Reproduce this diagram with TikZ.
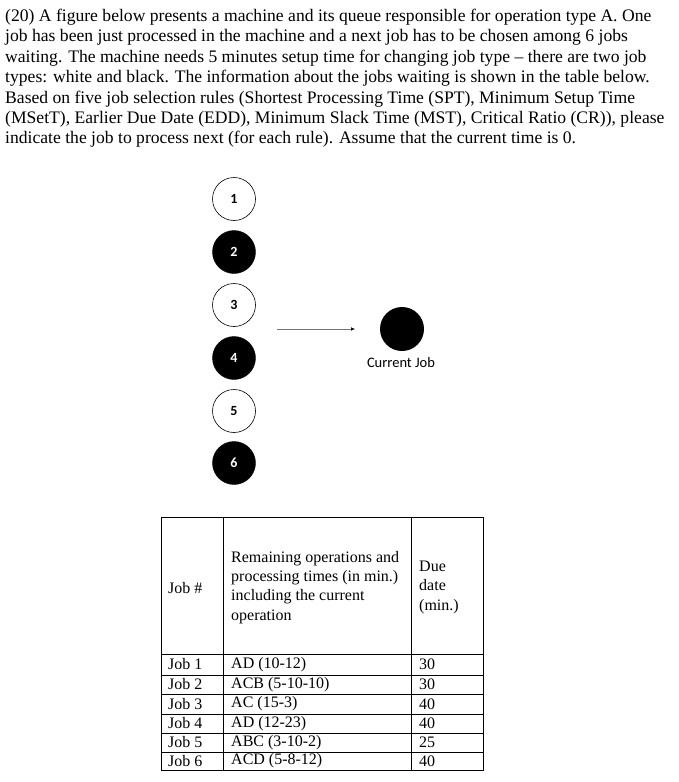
\documentclass[tikz,border=0pt]{standalone}
\usepackage{fontspec}
\setmainfont{Liberation Serif}
\newfontfamily\carl{Carlito}
\usetikzlibrary{arrows.meta}
\begin{document}
\begin{tikzpicture}[x=1pt,y=-1pt,
  txt/.style={inner sep=0pt,font=\fontsize{16}{19.3}\selectfont,anchor=west},
  whitejob/.style={circle,draw=black,line width=0.6pt,fill=white,minimum size=43pt,inner sep=0pt,font=\carl\fontsize{14}{15}\selectfont\bfseries},
  blackjob/.style={circle,draw=black,fill=black,text=white,minimum size=43pt,inner sep=0pt,font=\carl\fontsize{14}{15}\selectfont\bfseries},
  grid/.style={line width=0.8pt}]
\useasboundingbox (0,0) rectangle (679,782);
% paragraph
\node[inner sep=0pt,anchor=north west,align=left,font=\fontsize{17.6}{20.4}\selectfont] (para) at (5,9)
{(20) A figure below presents a machine and its queue responsible for operation type A. One\\
job has been just processed in the machine and a next job has to be chosen among 6 jobs\\
waiting. The machine needs 5 minutes setup time for changing job type -- there are two job\\
types: white and black. The information about the jobs waiting is shown in the table below.\\
Based on five job selection rules (Shortest Processing Time (SPT), Minimum Setup Time\\
(MSetT), Earlier Due Date (EDD), Minimum Slack Time (MST), Critical Ratio (CR)), please\\
indicate the job to process next (for each rule). Assume that the current time is 0.};
% queue
\node[whitejob] (j1) at (234,199) {1};
\node[blackjob] (j2) at (234,252) {2};
\node[whitejob] (j3) at (234,305) {3};
\node[blackjob] (j4) at (234,358) {4};
\node[whitejob] (j5) at (234,411) {5};
\node[blackjob] (j6) at (234,463) {6};
\coordinate (qa) at (277,329);
\coordinate (qb) at (355,329);
\draw[line width=0.5pt,draw=black!55,-{Latex[length=4pt,width=3.5pt,black]}] (qa) -- (qb);
\node[circle,fill=black,minimum size=44pt,inner sep=0pt] (cur) at (402,329) {};
\node[inner sep=0pt,font=\carl\fontsize{14.5}{15}\selectfont] (curlab) at (401,363) {Current Job};
% table grid
\draw[grid] (161,517) rectangle (483,770);
\draw[grid] (223,517) -- (223,770);
\draw[grid] (411,517) -- (411,770);
\foreach \y in {654,675,694,714,733,752} \draw[grid] (161,\y) -- (483,\y);
% header
\node[txt] (h1) at (168,588) {Job \#};
\node[txt,anchor=north west,align=left] (h2) at (231,551) {Remaining operations and\\processing times (in min.)\\including the current\\operation};
\node[txt,anchor=north west,align=left] (h3) at (419,561) {Due\\date\\(min.)};
% rows
\foreach \n/\ops/\due/\y in {1/AD (10-12)/30/664.5, 2/ACB (5-10-10)/30/684.5, 3/AC (15-3)/40/704, 4/AD (12-23)/40/723.5, 5/ABC (3-10-2)/25/742.5, 6/ACD (5-8-12)/40/761}{
  \node[txt] (r\n a) at (168,\y) {Job \n};
  \node[txt] (r\n b) at (231,\y) {\ops};
  \node[txt] (r\n c) at (419,\y) {\due};
}
\end{tikzpicture}
\end{document}
